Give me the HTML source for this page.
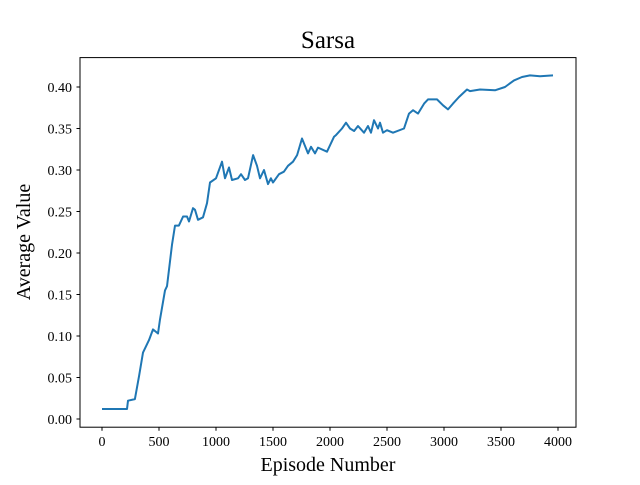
<!DOCTYPE html>
<html><head><meta charset="utf-8"><style>
body{margin:0;background:#fff;}
svg{font-family:"Liberation Serif",serif;}
</style></head><body>
<svg id="c" width="640" height="480" viewBox="0 0 640 480" xmlns="http://www.w3.org/2000/svg">
<rect width="640" height="480" fill="#fff"/>
<text x="328" y="48" font-size="25" text-anchor="middle">Sarsa</text>
<rect x="80" y="57.6" width="496" height="369.6" fill="none" stroke="#000" stroke-width="1"/>
<g id="xt"></g><g id="yt"></g>
<path id="ln" fill="none" stroke="#1f77b4" stroke-width="2" stroke-linejoin="round"/>
<text x="328" y="471" font-size="20" text-anchor="middle">Episode Number</text>
<text transform="translate(30,242) rotate(-90)" font-size="20" text-anchor="middle">Average Value</text>
</svg>
<script>
const episodes=[0,219,228,289,325,360,412,447,491,509,553,570,614,640,675,711,746,763,798,816,842,886,921,947,1000,1053,1079,1114,1140,1193,1219,1254,1281,1325,1360,1386,1421,1456,1482,1500,1553,1596,1632,1675,1711,1754,1807,1833,1868,1895,1974,2035,2053,2105,2140,2175,2211,2246,2298,2333,2360,2386,2421,2439,2465,2500,2553,2649,2693,2728,2772,2825,2860,2939,2991,3035,3079,3132,3202,3228,3316,3447,3535,3614,3684,3754,3842,3956];
const values=[0.012,0.012,0.022,0.024,0.052,0.08,0.095,0.108,0.103,0.12,0.155,0.16,0.21,0.233,0.233,0.244,0.244,0.238,0.254,0.252,0.24,0.243,0.26,0.285,0.29,0.31,0.29,0.303,0.288,0.29,0.295,0.288,0.29,0.318,0.305,0.29,0.3,0.283,0.29,0.285,0.295,0.298,0.305,0.31,0.318,0.338,0.32,0.328,0.32,0.327,0.322,0.34,0.342,0.35,0.357,0.35,0.347,0.353,0.345,0.353,0.345,0.36,0.35,0.357,0.345,0.348,0.345,0.35,0.368,0.372,0.368,0.38,0.385,0.385,0.378,0.373,0.38,0.388,0.397,0.395,0.397,0.396,0.4,0.408,0.412,0.414,0.413,0.414];
const xTicks=[0,500,1000,1500,2000,2500,3000,3500,4000];
const yTicks=[0,0.05,0.10,0.15,0.20,0.25,0.30,0.35,0.40];
const X=v=>102+v*0.114;
const Y=v=>419-v*830;
const NS="http://www.w3.org/2000/svg";
const xt=document.getElementById('xt'),yt=document.getElementById('yt');
xTicks.forEach(t=>{
 const l=document.createElementNS(NS,'line');
 l.setAttribute('x1',X(t));l.setAttribute('x2',X(t));l.setAttribute('y1',427.2);l.setAttribute('y2',430.7);l.setAttribute('stroke','#000');
 
 
 xt.appendChild(l);
 const s=document.createElementNS(NS,'text');
 s.setAttribute('x',X(t));s.setAttribute('y',446);s.setAttribute('font-size','14');s.setAttribute('text-anchor','middle');
 s.textContent=t;
 
 
 xt.appendChild(s);
});
yTicks.forEach(t=>{
 const l=document.createElementNS(NS,'line');
 l.setAttribute('x1',76.5);l.setAttribute('x2',80);l.setAttribute('y1',Y(t));l.setAttribute('y2',Y(t));l.setAttribute('stroke','#000');
 
 
 yt.appendChild(l);
 const s=document.createElementNS(NS,'text');
 s.setAttribute('x',72);s.setAttribute('y',Y(t)+5);s.setAttribute('font-size','14');s.setAttribute('text-anchor','end');
 s.textContent=t.toFixed(2);
 
 
 yt.appendChild(s);
});
document.getElementById('ln').setAttribute('d',episodes.map((e,i)=>(i?'L':'M')+X(e).toFixed(1)+','+Y(values[i]).toFixed(1)).join(''));
</script>
</body></html>
